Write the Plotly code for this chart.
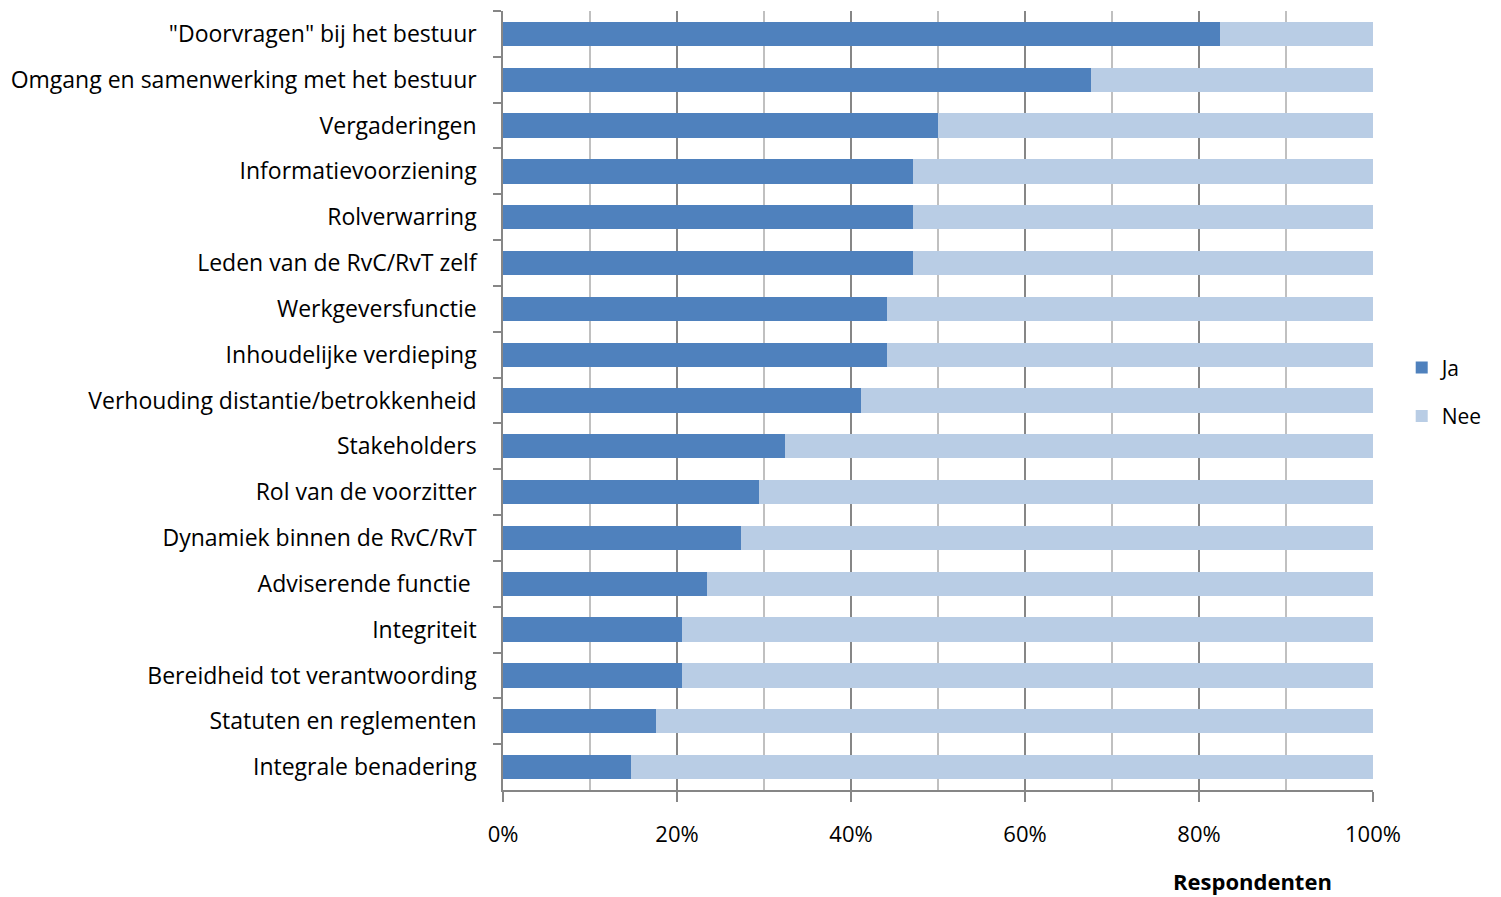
import plotly.graph_objects as go

categories = [
    '"Doorvragen" bij het bestuur',
    "Omgang en samenwerking met het bestuur",
    "Vergaderingen",
    "Informatievoorziening",
    "Rolverwarring",
    "Leden van de RvC/RvT zelf",
    "Werkgeversfunctie",
    "Inhoudelijke verdieping",
    "Verhouding distantie/betrokkenheid",
    "Stakeholders",
    "Rol van de voorzitter",
    "Dynamiek binnen de RvC/RvT",
    "Adviserende functie ",
    "Integriteit",
    "Bereidheid tot verantwoording",
    "Statuten en reglementen",
    "Integrale benadering",
]
ja = [82.4, 67.6, 50.0, 47.1, 47.1, 47.1, 44.1, 44.1, 41.2, 32.4, 29.4, 27.3, 23.5, 20.6, 20.6, 17.6, 14.7]
nee = [17.6, 32.4, 50.0, 52.9, 52.9, 52.9, 55.9, 55.9, 58.8, 67.6, 70.6, 72.7, 76.5, 79.4, 79.4, 82.4, 85.3]

font_family = "Open Sans"

fig = go.Figure()
fig.add_trace(go.Bar(y=categories, x=ja, name="Ja", orientation="h",
                     marker=dict(color="#4F81BD", line=dict(width=0)),
                     legendgroup="ja"))
fig.add_trace(go.Bar(y=categories, x=nee, name="Nee", orientation="h",
                     marker=dict(color="#B9CDE5", line=dict(width=0)),
                     legendgroup="nee"))

fig.update_layout(
    barmode="stack",
    bargap=0.47,
    width=1501, height=897,
    margin=dict(l=503, r=128, t=11, b=107),
    plot_bgcolor="white", paper_bgcolor="white",
    font=dict(family=font_family, size=22, color="#000000"),
    legend=dict(x=1.033, y=0.511, xanchor="left", yanchor="middle",
                traceorder="grouped", tracegroupgap=18,
                font=dict(size=21), itemwidth=30, bgcolor="rgba(0,0,0,0)"),
    showlegend=True,
)
fig.update_xaxes(
    range=[0, 100], dtick=20, ticksuffix="%",
    showgrid=True, gridcolor="#868686", gridwidth=1.5,
    minor=dict(dtick=10, showgrid=True, gridcolor="#C0C0C0", gridwidth=1.5,
               ticks=""),
    showline=True, linecolor="#868686", linewidth=1.5,
    ticks="outside", ticklen=10, tickcolor="#868686", tickwidth=1.5,
    ticklabelstandoff=14, zeroline=False,
    tickfont=dict(size=22),
)
fig.update_yaxes(
    autorange="reversed", type="category",
    showline=True, linecolor="#868686", linewidth=1.5,
    ticks="outside", ticklen=8, tickcolor="#868686", tickwidth=1.5,
    tickson="boundaries", showgrid=False,
    tickfont=dict(size=23), ticklabelstandoff=20,
)
fig.add_annotation(text="<b>Respondenten</b>", x=0.862, y=-0.1165,
                   xref="paper", yref="paper", xanchor="center", yanchor="middle",
                   showarrow=False, font=dict(size=22, family=font_family))

fig.write_html("out.html")
